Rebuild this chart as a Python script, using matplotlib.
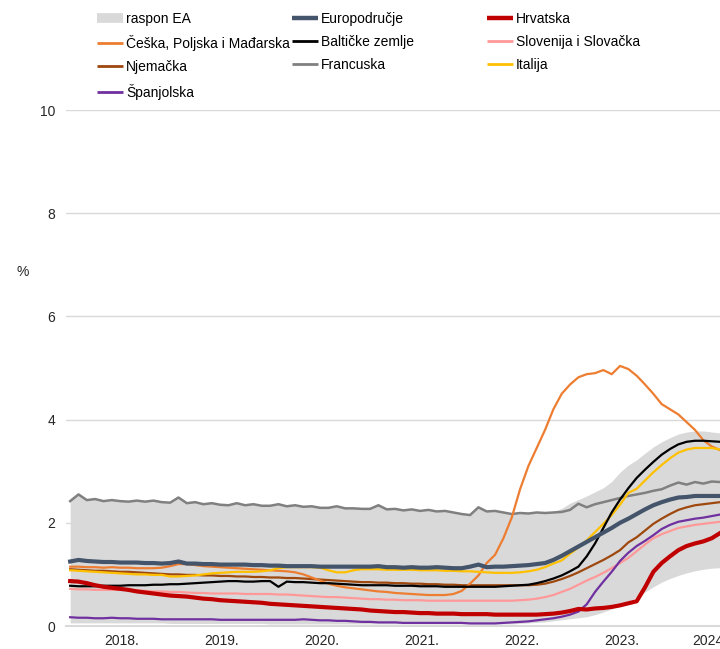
import matplotlib
matplotlib.use("Agg")
import matplotlib.pyplot as plt
from matplotlib.lines import Line2D
import numpy as np

plt.rcParams['font.family'] = ['Liberation Sans', 'DejaVu Sans']
plt.rcParams['font.size'] = 10

# mjesecni podaci, sijecanj 2018. - srpanj 2024.
godine = ['2018.', '2019.', '2020.', '2021.', '2022.', '2023.', '2024']

francuska = [2.42, 2.55, 2.44, 2.46, 2.42, 2.44, 2.42, 2.41, 2.43, 2.41, 2.43, 2.40,
             2.39, 2.49, 2.38, 2.40, 2.36, 2.38, 2.35, 2.34, 2.38, 2.34, 2.36, 2.33,
             2.33, 2.36, 2.32, 2.34, 2.31, 2.32, 2.29, 2.29, 2.32, 2.28, 2.28, 2.27,
             2.27, 2.34, 2.26, 2.27, 2.24, 2.26, 2.23, 2.25, 2.22, 2.23, 2.20, 2.17,
             2.15, 2.30, 2.22, 2.23, 2.20, 2.17, 2.19, 2.18, 2.20, 2.19, 2.20, 2.21,
             2.25, 2.37, 2.30, 2.36, 2.40, 2.44, 2.48, 2.52, 2.55, 2.58, 2.62, 2.65,
             2.72, 2.78, 2.74, 2.79, 2.76, 2.80, 2.79]

ea_gornja = [2.42, 2.55, 2.44, 2.46, 2.42, 2.44, 2.42, 2.41, 2.43, 2.41, 2.43, 2.40,
             2.39, 2.49, 2.38, 2.40, 2.36, 2.38, 2.35, 2.34, 2.38, 2.34, 2.36, 2.33,
             2.33, 2.36, 2.32, 2.34, 2.31, 2.32, 2.29, 2.29, 2.32, 2.28, 2.28, 2.27,
             2.27, 2.34, 2.26, 2.27, 2.24, 2.26, 2.23, 2.25, 2.22, 2.23, 2.20, 2.17,
             2.15, 2.30, 2.22, 2.23, 2.20, 2.17, 2.19, 2.18, 2.20, 2.19, 2.22, 2.28,
             2.38, 2.45, 2.52, 2.60, 2.68, 2.80, 2.98, 3.12, 3.22, 3.35, 3.47, 3.57,
             3.65, 3.72, 3.76, 3.78, 3.78, 3.76, 3.74]

ea_donja = [0.06, 0.06, 0.06, 0.06, 0.06, 0.06, 0.06, 0.06, 0.06, 0.06, 0.06, 0.06,
            0.05, 0.05, 0.05, 0.05, 0.05, 0.05, 0.05, 0.05, 0.05, 0.05, 0.05, 0.05,
            0.04, 0.04, 0.04, 0.04, 0.04, 0.04, 0.04, 0.04, 0.04, 0.04, 0.04, 0.04,
            0.04, 0.04, 0.04, 0.04, 0.04, 0.04, 0.04, 0.04, 0.04, 0.04, 0.04, 0.04,
            0.04, 0.04, 0.04, 0.04, 0.04, 0.04, 0.05, 0.06, 0.07, 0.08, 0.10, 0.12,
            0.14, 0.16, 0.18, 0.22, 0.27, 0.33, 0.40, 0.48, 0.56, 0.66, 0.76, 0.85,
            0.92, 0.98, 1.03, 1.07, 1.10, 1.12, 1.13]

europodrucje = [1.25, 1.28, 1.26, 1.25, 1.24, 1.24, 1.23, 1.23, 1.23, 1.22, 1.22, 1.21,
                1.22, 1.25, 1.21, 1.21, 1.20, 1.20, 1.19, 1.19, 1.19, 1.19, 1.18, 1.18,
                1.17, 1.17, 1.16, 1.16, 1.16, 1.16, 1.15, 1.15, 1.15, 1.15, 1.15, 1.15,
                1.15, 1.16, 1.14, 1.14, 1.13, 1.14, 1.13, 1.13, 1.14, 1.13, 1.12, 1.12,
                1.15, 1.19, 1.14, 1.15, 1.15, 1.16, 1.17, 1.18, 1.20, 1.22, 1.28, 1.36,
                1.45, 1.54, 1.63, 1.72, 1.81, 1.90, 2.00, 2.08, 2.17, 2.26, 2.34, 2.40,
                2.45, 2.49, 2.50, 2.52, 2.52, 2.52, 2.52]

hrvatska = [0.87, 0.86, 0.83, 0.79, 0.76, 0.74, 0.72, 0.70, 0.67, 0.65, 0.63, 0.61,
            0.59, 0.58, 0.57, 0.55, 0.53, 0.52, 0.50, 0.49, 0.48, 0.47, 0.46, 0.45,
            0.43, 0.42, 0.41, 0.40, 0.39, 0.38, 0.37, 0.36, 0.35, 0.34, 0.33, 0.32,
            0.30, 0.29, 0.28, 0.27, 0.27, 0.26, 0.25, 0.25, 0.24, 0.24, 0.24, 0.23,
            0.23, 0.23, 0.23, 0.22, 0.22, 0.22, 0.22, 0.22, 0.22, 0.23, 0.24, 0.26,
            0.29, 0.33, 0.32, 0.34, 0.35, 0.37, 0.40, 0.44, 0.48, 0.75, 1.05, 1.22,
            1.35, 1.47, 1.55, 1.60, 1.64, 1.70, 1.80]

cpm = [1.15, 1.15, 1.14, 1.14, 1.13, 1.14, 1.13, 1.13, 1.12, 1.12, 1.12, 1.13,
       1.16, 1.20, 1.20, 1.18, 1.16, 1.15, 1.14, 1.13, 1.12, 1.11, 1.10, 1.09,
       1.08, 1.07, 1.06, 1.04, 1.00, 0.94, 0.88, 0.82, 0.78, 0.75, 0.73, 0.71,
       0.69, 0.67, 0.66, 0.64, 0.63, 0.62, 0.61, 0.60, 0.60, 0.60, 0.62, 0.68,
       0.82, 0.98, 1.22, 1.38, 1.70, 2.10, 2.65, 3.10, 3.45, 3.80, 4.20, 4.50,
       4.68, 4.82, 4.88, 4.90, 4.96, 4.88, 5.04, 4.98, 4.85, 4.68, 4.50, 4.30,
       4.20, 4.10, 3.95, 3.80, 3.60, 3.48, 3.41]

baltik = [0.78, 0.77, 0.77, 0.77, 0.78, 0.78, 0.78, 0.79, 0.79, 0.79, 0.80, 0.80,
          0.81, 0.81, 0.82, 0.83, 0.84, 0.85, 0.86, 0.87, 0.87, 0.86, 0.86, 0.87,
          0.87, 0.76, 0.86, 0.85, 0.85, 0.84, 0.83, 0.83, 0.82, 0.81, 0.80, 0.79,
          0.79, 0.79, 0.79, 0.78, 0.78, 0.78, 0.77, 0.77, 0.77, 0.76, 0.76, 0.76,
          0.76, 0.76, 0.76, 0.76, 0.77, 0.78, 0.79, 0.80, 0.83, 0.87, 0.92, 0.98,
          1.06, 1.15, 1.35, 1.60, 1.90, 2.20, 2.45, 2.67, 2.87, 3.03, 3.18, 3.32,
          3.43, 3.52, 3.57, 3.59, 3.59, 3.58, 3.57]

slo = [0.72, 0.71, 0.71, 0.70, 0.70, 0.70, 0.70, 0.70, 0.69, 0.68, 0.67, 0.67,
       0.66, 0.66, 0.65, 0.64, 0.64, 0.63, 0.63, 0.63, 0.63, 0.62, 0.62, 0.62,
       0.62, 0.61, 0.61, 0.60, 0.59, 0.58, 0.57, 0.56, 0.56, 0.55, 0.54, 0.53,
       0.52, 0.52, 0.51, 0.51, 0.50, 0.50, 0.50, 0.49, 0.49, 0.49, 0.49, 0.49,
       0.49, 0.49, 0.49, 0.49, 0.49, 0.49, 0.50, 0.51, 0.53, 0.56, 0.60, 0.66,
       0.72, 0.80, 0.88, 0.95, 1.03, 1.12, 1.22, 1.32, 1.45, 1.58, 1.70, 1.78,
       1.84, 1.90, 1.93, 1.96, 1.98, 2.00, 2.02]

njemacka = [1.10, 1.09, 1.08, 1.07, 1.07, 1.06, 1.05, 1.05, 1.04, 1.03, 1.02, 1.01,
            1.00, 1.00, 0.99, 0.99, 0.98, 0.98, 0.97, 0.97, 0.96, 0.96, 0.95, 0.95,
            0.94, 0.94, 0.93, 0.93, 0.92, 0.91, 0.90, 0.89, 0.88, 0.87, 0.86, 0.85,
            0.85, 0.84, 0.84, 0.83, 0.83, 0.82, 0.82, 0.81, 0.81, 0.80, 0.80, 0.79,
            0.79, 0.79, 0.79, 0.79, 0.79, 0.79, 0.79, 0.79, 0.80, 0.82, 0.86, 0.91,
            0.97, 1.04, 1.12, 1.20, 1.28, 1.37, 1.47, 1.62, 1.72, 1.85, 1.98, 2.08,
            2.17, 2.25, 2.30, 2.34, 2.36, 2.38, 2.40]

italija = [1.08, 1.07, 1.06, 1.05, 1.04, 1.03, 1.02, 1.01, 1.00, 1.00, 0.99, 0.99,
           0.96, 0.96, 0.97, 0.98, 1.00, 1.02, 1.03, 1.04, 1.05, 1.05, 1.05, 1.06,
           1.08, 1.12, 1.14, 1.14, 1.14, 1.14, 1.13, 1.08, 1.04, 1.04, 1.08, 1.10,
           1.10, 1.10, 1.09, 1.09, 1.09, 1.09, 1.08, 1.08, 1.08, 1.07, 1.07, 1.06,
           1.06, 1.05, 1.04, 1.03, 1.03, 1.03, 1.04, 1.06, 1.09, 1.14, 1.21, 1.27,
           1.40, 1.52, 1.66, 1.82, 1.98, 2.15, 2.35, 2.58, 2.66, 2.82, 2.98, 3.12,
           3.25, 3.36, 3.42, 3.45, 3.45, 3.45, 3.42]

spanjolska = [0.17, 0.16, 0.16, 0.15, 0.15, 0.16, 0.15, 0.15, 0.14, 0.14, 0.14, 0.13,
              0.13, 0.13, 0.13, 0.13, 0.13, 0.13, 0.12, 0.12, 0.12, 0.12, 0.12, 0.12,
              0.12, 0.12, 0.12, 0.12, 0.13, 0.12, 0.11, 0.11, 0.10, 0.10, 0.09, 0.08,
              0.08, 0.07, 0.07, 0.07, 0.06, 0.06, 0.06, 0.06, 0.06, 0.06, 0.06, 0.06,
              0.05, 0.05, 0.05, 0.05, 0.06, 0.07, 0.08, 0.09, 0.11, 0.13, 0.15, 0.18,
              0.22, 0.28, 0.42, 0.66, 0.86, 1.05, 1.26, 1.42, 1.55, 1.65, 1.76, 1.88,
              1.96, 2.02, 2.05, 2.08, 2.10, 2.13, 2.16]

mjeseci = np.arange(len(francuska))

fig = plt.figure(figsize=(7.2, 6.49), dpi=100)
ax = fig.add_axes([66 / 720, 23 / 649, 654 / 720, 516 / 649])

# raspon europodrucja
ax.fill_between(mjeseci, ea_donja, ea_gornja, color='#D9D9D9', lw=0, zorder=1)

tanka, debela = 1.6, 3.0
serije = [
    (francuska, '#808080', 1.8),
    (njemacka, '#9E480E', tanka),
    (slo, '#FF9999', tanka),
    (spanjolska, '#7030A0', tanka),
    (cpm, '#ED7D31', tanka),
    (italija, '#FFC000', tanka),
    (baltik, '#000000', tanka),
    (europodrucje, '#44546A', debela),
    (hrvatska, '#C00000', debela),
]
for vals, boja, lw in serije:
    ax.plot(mjeseci, vals, color=boja, lw=lw, zorder=3, solid_joinstyle='round')

ax.set_xlim(-0.5, 78)
ax.set_ylim(0, 10)
ax.set_yticks([0, 2, 4, 6, 8, 10])
ax.grid(axis='y', color='#D9D9D9', lw=1.0, zorder=0)
ax.set_axisbelow(True)
for s in ['top', 'right', 'left']:
    ax.spines[s].set_visible(False)
ax.spines['bottom'].set_color('#D9D9D9')
ax.spines['bottom'].set_linewidth(1.5)
ax.tick_params(axis='both', length=0, labelsize=10, colors='#262626')
ax.tick_params(axis='y', pad=8)
ax.tick_params(axis='x', pad=6)

pozicije = [6.2 + 12 * k for k in range(6)] + [76.6]
ax.set_xticks(pozicije)
ax.set_xticklabels(godine)

fig.text(23 / 720, 1 - 272 / 649, '%', ha='center', va='center', fontsize=10, color='#262626')

# legenda u tri stupca
def h(boja, lw):
    return Line2D([0], [0], color=boja, lw=lw, solid_capstyle='butt')

stupci = [
    ([h('#D9D9D9', 7), h('#ED7D31', 2), h('#9E480E', 2), h('#7030A0', 2)],
     ['raspon EA', 'Češka, Poljska i Mađarska', 'Njemačka', 'Španjolska']),
    ([h('#44546A', 3.2), h('#000000', 2), h('#808080', 2)],
     ['Europodručje', 'Baltičke zemlje', 'Francuska']),
    ([h('#C00000', 3.2), h('#FF9999', 2), h('#FFC000', 2)],
     ['Hrvatska', 'Slovenija i Slovačka', 'Italija']),
]
for k, (hs, ls) in enumerate(stupci):
    fig.legend(hs, ls, loc='upper left', bbox_to_anchor=((97 + 195 * k) / 720, 1 - 12 / 649),
               frameon=False, borderpad=0, borderaxespad=0, handlelength=1.9,
               handletextpad=0.2, labelspacing=0.66, fontsize=10)

fig.savefig('out.png', dpi=100)
